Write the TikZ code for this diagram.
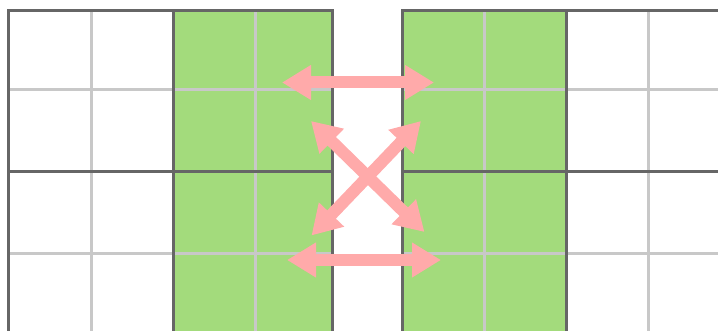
\documentclass[tikz,border=0pt]{standalone}
\usetikzlibrary{arrows.meta}
\definecolor{cellgreen}{HTML}{A3DB7C}
\definecolor{darkline}{HTML}{666666}
\definecolor{lightline}{HTML}{C8C8C8}
\definecolor{arrowpink}{HTML}{FFAAAA}
\tikzset{
  thin grid/.style={draw=lightline, line width=3pt},
  thick grid/.style={draw=darkline, line width=3pt},
  swap arrow/.style={draw=arrowpink, line width=12pt,
    {Triangle[length=29pt,width=33pt]}-{Triangle[length=29pt,width=33pt]}}
}
\begin{document}
\begin{tikzpicture}[x=1pt,y=-1pt]
\useasboundingbox (0,0) rectangle (718,331);
\clip (0,0) rectangle (718,331);
% green fills
\fill[cellgreen] (173,11) rectangle (332,335);
\fill[cellgreen] (402,11) rectangle (566,335);
% light grid lines
\draw[thin grid] (91,11) -- (91,335);
\draw[thin grid] (255,11) -- (255,335);
\draw[thin grid] (8.5,90) -- (332,90);
\draw[thin grid] (8.5,254) -- (332,254);
\draw[thin grid] (484,11) -- (484,335);
\draw[thin grid] (648,11) -- (648,335);
\draw[thin grid] (402,90) -- (720,90);
\draw[thin grid] (402,254) -- (720,254);
% dark grid lines
\draw[thick grid] (8.5,335) -- (8.5,11) -- (332,11) -- (332,335);
\draw[thick grid] (173,11) -- (173,335);
\draw[thick grid] (8.5,172) -- (332,172);
\draw[thick grid] (402,335) -- (402,11) -- (720,11);
\draw[thick grid] (566,11) -- (566,335);
\draw[thick grid] (402,172) -- (720,172);
% arrow end points
\coordinate (tl) at (282,82.5);
\coordinate (tr) at (434,82.5);
\coordinate (bl) at (287,260);
\coordinate (br) at (441,260);
\coordinate (dul) at (311,121);
\coordinate (dlr) at (424.5,232);
\coordinate (dll) at (311.5,235.5);
\coordinate (dur) at (421,121);
% arrows
\draw[swap arrow] (tl) -- (tr);
\draw[swap arrow] (bl) -- (br);
\draw[swap arrow] (dul) -- (dlr);
\draw[swap arrow] (dll) -- (dur);
\end{tikzpicture}
\end{document}
